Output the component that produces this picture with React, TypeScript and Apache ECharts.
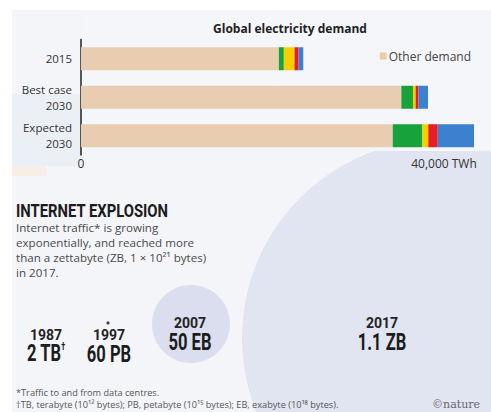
import React, { useEffect, useRef } from "react";
import * as echarts from "echarts";

// ---- data ----
const categories = ["2015", "Best case\n2030", "Expected\n2030"];
const otherDemand = [21800, 35300, 34350];
const segGreen = [550, 1280, 3260];
const segYellow = [1180, 300, 660];
const segRed = [440, 300, 1040];
const segBlue = [520, 1060, 4000];
const xMin = 0;
const xMax = 44000;
const xInterval = 40000;
const xTickLabels: Record<number, string> = { 0: "0", 40000: "40,000 TWh" };

const trafficYears = ["1987", "1997", "2007", "2017"];
const trafficVolumes = ["2 TB{s|†}", "60 PB", "50 EB", "1.1 ZB"];

const COND = "Roboto, 'Noto Sans', sans-serif";
const BODY = "'Open Sans', 'Noto Sans', sans-serif";

export default function App() {
  const ref = useRef<HTMLDivElement>(null);
  useEffect(() => {
    if (!ref.current) return;
    const chart = echarts.init(ref.current, undefined, { renderer: "svg" });

    const yearPos = [
      { x: 46, yy: 335, yv: 353 },
      { x: 109, yy: 335, yv: 354 },
      { x: 190, yy: 323, yv: 342 },
      { x: 382, yy: 323, yv: 342 },
    ];
    const trafficTexts: any[] = [];
    trafficYears.forEach((yr, i) => {
      trafficTexts.push({
        type: "text",
        x: yearPos[i].x,
        y: yearPos[i].yy,
        z: 5,
        style: {
          text: yr,
          fill: "#222",
          font: `bold 14px ${COND}`,
          textAlign: "center",
          textVerticalAlign: "middle",
        },
      });
      trafficTexts.push({
        type: "text",
        x: yearPos[i].x,
        y: yearPos[i].yv,
        scaleX: 0.72,
        z: 5,
        style: {
          text: trafficVolumes[i],
          fill: "#1c1c1c",
          font: `bold 23px ${COND}`,
          textAlign: "center",
          textVerticalAlign: "middle",
          rich: {
            s: { fontSize: 10, fontWeight: "bold", verticalAlign: "top", padding: [0, 0, 10, 0], fontFamily: COND },
          },
        },
      });
    });

    chart.setOption({
      animation: false,
      backgroundColor: "#ffffff",
      title: {
        text: "Global electricity demand",
        left: 285,
        textAlign: "center",
        top: 17,
        textStyle: { fontFamily: BODY, fontWeight: "bold", fontSize: 12, color: "#222" },
      },
      legend: {
        data: ["Other demand"],
        right: 15,
        top: 45,
        icon: "rect",
        itemWidth: 7,
        itemHeight: 7,
        selectedMode: false,
        textStyle: { fontFamily: BODY, fontSize: 12, color: "#444", padding: [0, 0, 0, -3] },
      },
      grid: { left: 81, right: 10.7, top: 39.5, bottom: 257 },
      xAxis: {
        type: "value",
        min: xMin,
        max: xMax,
        interval: xInterval,
        axisLine: { show: false },
        axisTick: { show: false },
        splitLine: { show: false },
        axisLabel: {
          showMaxLabel: false,
          margin: 2,
          fontFamily: BODY,
          fontSize: 12,
          color: "#333",
          formatter: (v: number) => xTickLabels[v] ?? "",
        },
      },
      yAxis: {
        type: "category",
        data: categories,
        inverse: true,
        axisLine: { show: true, lineStyle: { color: "#222", width: 1.5 } },
        axisTick: { show: false },
        axisLabel: {
          margin: 9,
          fontFamily: BODY,
          fontSize: 11.5,
          lineHeight: 16,
          color: "#333",
          align: "right",
        },
      },
      series: [
        { name: "Other demand", data: otherDemand, color: "#e8cdb1" },
        { name: "Segment green", data: segGreen, color: "#17a23b" },
        { name: "Segment yellow", data: segYellow, color: "#f5cf00" },
        { name: "Segment red", data: segRed, color: "#ea1c24" },
        { name: "Segment blue", data: segBlue, color: "#3b81cf" },
      ].map((s) => ({
        type: "bar",
        stack: "total",
        barWidth: 23,
        name: s.name,
        data: s.data,
        itemStyle: { color: s.color },
        emphasis: { disabled: true },
      })),
      graphic: [
        { type: "rect", z: -10, shape: { x: 12, y: 10, width: 479, height: 402 }, style: { fill: "#f4f5f9" } },
        { type: "rect", z: -9, shape: { x: 12, y: 94, width: 70, height: 72 }, style: { fill: "#ebf0f7" } },
        { type: "rect", z: -9, shape: { x: 12, y: 166, width: 34, height: 10 }, style: { fill: "#f8eee6" } },
        { type: "circle", z: -8, shape: { cx: 440, cy: 338, r: 198 }, style: { fill: "#e1e4f1" } },
        { type: "rect", z: -7, shape: { x: 82, y: 10, width: 409, height: 141 }, style: { fill: "#f5f6f9" } },
        { type: "circle", z: -6, shape: { cx: 191, cy: 324, r: 39 }, style: { fill: "#dadeee" } },
        { type: "circle", z: -6, shape: { cx: 108, cy: 323, r: 1.6 }, style: { fill: "#444" } },
        {
          type: "text",
          x: 16,
          y: 210,
          scaleX: 0.78,
          style: {
            text: "INTERNET EXPLOSION",
            fill: "#1c1c1c",
            font: `bold 19px ${COND}`,
            textVerticalAlign: "middle",
          },
        },
        {
          type: "text",
          x: 16,
          y: 219.5,
          style: {
            text:
              "Internet traffic* is growing\nexponentially, and reached more\nthan a zettabyte (ZB, 1 × 10²¹ bytes)\nin 2017.",
            fill: "#4a4a4a",
            font: `11.6px ${BODY}`,
            lineHeight: 15,
            textVerticalAlign: "top",
          },
        },
        ...trafficTexts,
        {
          type: "text",
          x: 16,
          y: 392,
          style: {
            text: "*Traffic to and from data centres.",
            fill: "#555",
            font: `9.2px ${BODY}`,
            textVerticalAlign: "middle",
          },
        },
        {
          type: "text",
          x: 16,
          y: 404,
          style: {
            text: "†TB, terabyte (10¹² bytes); PB, petabyte (10¹⁵ bytes); EB, exabyte (10¹⁸ bytes).",
            fill: "#555",
            font: `9.2px ${BODY}`,
            textVerticalAlign: "middle",
          },
        },
        {
          type: "text",
          x: 480,
          y: 404,
          style: {
            text: "©nature",
            fill: "#666",
            font: `11px 'DejaVu Serif', serif`,
            textAlign: "right",
            textVerticalAlign: "middle",
          },
        },
      ],
    });
    return () => chart.dispose();
  }, []);
  return (
    <div
      ref={ref}
      style={{ position: "absolute", left: 0, top: 0, width: 491, height: 412 }}
    />
  );
}
